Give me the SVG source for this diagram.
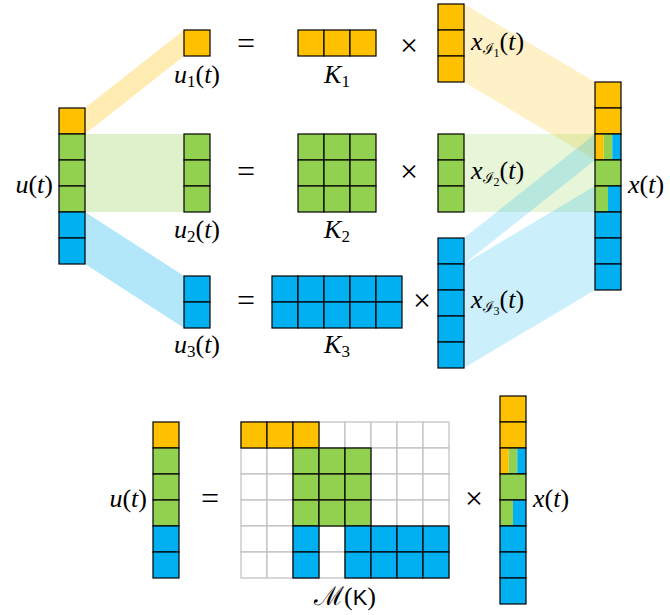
<svg xmlns="http://www.w3.org/2000/svg" width="670" height="615" viewBox="0 0 670 615">
<style>
.o{fill:#FFC000;stroke:#000;stroke-width:1.2}
.g{fill:#92D050;stroke:#000;stroke-width:1.2}
.b{fill:#00B0F0;stroke:#000;stroke-width:1.2}
.on{fill:#FFC000}.gn{fill:#92D050}.bn{fill:#00B0F0}
.box{fill:none;stroke:#000;stroke-width:1.2}
.w{fill:#fff;stroke:#BFBFBF;stroke-width:1.2}
.bo{fill:#FFC000;opacity:.3}.bg{fill:#92D050;opacity:.3}.bb{fill:#00B0F0;opacity:.3}
.ro{fill:#FFC000;opacity:.22}.rg{fill:#92D050;opacity:.22}.rb{fill:#00B0F0;opacity:.2}
text{font-family:'Liberation Serif','Times New Roman',serif;font-size:26px;fill:#000}
.op{font-size:32px}
.i{font-style:italic}
.s{font-size:17px}
.ss{font-size:12px}
.sc{font-family:'DejaVu Serif',serif;font-size:15px;font-style:normal}
.sf{font-family:'Liberation Sans',Arial,sans-serif;font-style:normal;font-size:22px}
</style>
<g id="connectors">
<polygon class="bo" points="85,108 184,30 184,56 85,134"/>
<rect class="bg" x="85" y="134" width="99" height="78"/>
<polygon class="bb" points="85,212 184,276 184,328 85,264"/>
<polygon class="ro" points="464,4 595,82 595,160 464,82"/>
<rect class="rg" x="464" y="134" width="131" height="78"/>
<polygon class="rb" points="464,238 595,134 595,160 464,264"/>
<polygon class="rb" points="464,264 595,186 595,290 464,368"/>
</g>
<g id="u">
<rect class="o" x="59" y="108" width="26" height="26"/>
<rect class="g" x="59" y="134" width="26" height="26"/>
<rect class="g" x="59" y="160" width="26" height="26"/>
<rect class="g" x="59" y="186" width="26" height="26"/>
<rect class="b" x="59" y="212" width="26" height="26"/>
<rect class="b" x="59" y="238" width="26" height="26"/>
<text x="53" y="193" text-anchor="end"><tspan class="i">u</tspan>(<tspan class="i">t</tspan>)</text>
</g>
<g id="u1">
<rect class="o" x="184" y="30" width="26" height="26"/>
<text x="197" y="83" text-anchor="middle"><tspan class="i">u</tspan><tspan class="s" dy="4">1</tspan><tspan dy="-4">(</tspan><tspan class="i">t</tspan>)</text>
</g>
<g id="u2">
<rect class="g" x="184" y="134" width="26" height="26"/>
<rect class="g" x="184" y="160" width="26" height="26"/>
<rect class="g" x="184" y="186" width="26" height="26"/>
<text x="197" y="238" text-anchor="middle"><tspan class="i">u</tspan><tspan class="s" dy="4">2</tspan><tspan dy="-4">(</tspan><tspan class="i">t</tspan>)</text>
</g>
<g id="u3">
<rect class="b" x="184" y="276" width="26" height="26"/>
<rect class="b" x="184" y="302" width="26" height="26"/>
<text x="197" y="353" text-anchor="middle"><tspan class="i">u</tspan><tspan class="s" dy="4">3</tspan><tspan dy="-4">(</tspan><tspan class="i">t</tspan>)</text>
</g>
<g id="eq1"><text class="op" x="246" y="54" text-anchor="middle">=</text></g>
<g id="eq2"><text class="op" x="246" y="182" text-anchor="middle">=</text></g>
<g id="eq3"><text class="op" x="246" y="311" text-anchor="middle">=</text></g>
<g id="K1">
<rect class="o" x="298" y="30" width="26" height="26"/>
<rect class="o" x="324" y="30" width="26" height="26"/>
<rect class="o" x="350" y="30" width="26" height="26"/>
<text x="337" y="83" text-anchor="middle"><tspan class="i">K</tspan><tspan class="s" dy="4">1</tspan></text>
</g>
<g id="K2">
<rect class="g" x="298" y="134" width="26" height="26"/>
<rect class="g" x="324" y="134" width="26" height="26"/>
<rect class="g" x="350" y="134" width="26" height="26"/>
<rect class="g" x="298" y="160" width="26" height="26"/>
<rect class="g" x="324" y="160" width="26" height="26"/>
<rect class="g" x="350" y="160" width="26" height="26"/>
<rect class="g" x="298" y="186" width="26" height="26"/>
<rect class="g" x="324" y="186" width="26" height="26"/>
<rect class="g" x="350" y="186" width="26" height="26"/>
<text x="337" y="238" text-anchor="middle"><tspan class="i">K</tspan><tspan class="s" dy="4">2</tspan></text>
</g>
<g id="K3">
<rect class="b" x="272" y="276" width="26" height="26"/>
<rect class="b" x="298" y="276" width="26" height="26"/>
<rect class="b" x="324" y="276" width="26" height="26"/>
<rect class="b" x="350" y="276" width="26" height="26"/>
<rect class="b" x="376" y="276" width="26" height="26"/>
<rect class="b" x="272" y="302" width="26" height="26"/>
<rect class="b" x="298" y="302" width="26" height="26"/>
<rect class="b" x="324" y="302" width="26" height="26"/>
<rect class="b" x="350" y="302" width="26" height="26"/>
<rect class="b" x="376" y="302" width="26" height="26"/>
<text x="337" y="353" text-anchor="middle"><tspan class="i">K</tspan><tspan class="s" dy="4">3</tspan></text>
</g>
<g id="times1"><text class="op" x="409" y="56" text-anchor="middle">×</text></g>
<g id="times2"><text class="op" x="409" y="182" text-anchor="middle">×</text></g>
<g id="times3"><text class="op" x="422" y="311" text-anchor="middle">×</text></g>
<g id="xI1">
<rect class="o" x="438" y="4" width="26" height="26"/>
<rect class="o" x="438" y="30" width="26" height="26"/>
<rect class="o" x="438" y="56" width="26" height="26"/>
<text x="471" y="50"><tspan class="i">x</tspan><tspan class="sc" dy="4">ℐ</tspan><tspan class="ss" dy="3">1</tspan><tspan dy="-7">(</tspan><tspan class="i">t</tspan>)</text>
</g>
<g id="xI2">
<rect class="g" x="438" y="134" width="26" height="26"/>
<rect class="g" x="438" y="160" width="26" height="26"/>
<rect class="g" x="438" y="186" width="26" height="26"/>
<text x="471" y="179"><tspan class="i">x</tspan><tspan class="sc" dy="4">ℐ</tspan><tspan class="ss" dy="3">2</tspan><tspan dy="-7">(</tspan><tspan class="i">t</tspan>)</text>
</g>
<g id="xI3">
<rect class="b" x="438" y="238" width="26" height="26"/>
<rect class="b" x="438" y="264" width="26" height="26"/>
<rect class="b" x="438" y="290" width="26" height="26"/>
<rect class="b" x="438" y="316" width="26" height="26"/>
<rect class="b" x="438" y="342" width="26" height="26"/>
<text x="471" y="308"><tspan class="i">x</tspan><tspan class="sc" dy="4">ℐ</tspan><tspan class="ss" dy="3">3</tspan><tspan dy="-7">(</tspan><tspan class="i">t</tspan>)</text>
</g>
<g id="x">
<rect class="o" x="595" y="82" width="26" height="26"/>
<rect class="o" x="595" y="108" width="26" height="26"/>
<rect class="on" x="595" y="134" width="8.67" height="26"/>
<rect class="gn" x="603.67" y="134" width="8.67" height="26"/>
<rect class="bn" x="612.33" y="134" width="8.67" height="26"/>
<rect class="box" x="595" y="134" width="26" height="26"/>
<rect class="g" x="595" y="160" width="26" height="26"/>
<rect class="gn" x="595" y="186" width="13" height="26"/>
<rect class="bn" x="608" y="186" width="13" height="26"/>
<rect class="box" x="595" y="186" width="26" height="26"/>
<rect class="b" x="595" y="212" width="26" height="26"/>
<rect class="b" x="595" y="238" width="26" height="26"/>
<rect class="b" x="595" y="264" width="26" height="26"/>
<text x="628" y="193"><tspan class="i">x</tspan>(<tspan class="i">t</tspan>)</text>
</g>
<g id="u-bottom">
<rect class="o" x="153" y="422" width="26" height="26"/>
<rect class="g" x="153" y="448" width="26" height="26"/>
<rect class="g" x="153" y="474" width="26" height="26"/>
<rect class="g" x="153" y="500" width="26" height="26"/>
<rect class="b" x="153" y="526" width="26" height="26"/>
<rect class="b" x="153" y="552" width="26" height="26"/>
<text x="147" y="507" text-anchor="end"><tspan class="i">u</tspan>(<tspan class="i">t</tspan>)</text>
</g>
<g id="eq-bottom"><text class="op" x="210" y="509" text-anchor="middle">=</text></g>
<g id="MK">
<g class="w">
<rect x="241" y="422" width="26" height="26"/><rect x="267" y="422" width="26" height="26"/><rect x="293" y="422" width="26" height="26"/><rect x="319" y="422" width="26" height="26"/><rect x="345" y="422" width="26" height="26"/><rect x="371" y="422" width="26" height="26"/><rect x="397" y="422" width="26" height="26"/><rect x="423" y="422" width="26" height="26"/>
<rect x="241" y="448" width="26" height="26"/><rect x="267" y="448" width="26" height="26"/><rect x="293" y="448" width="26" height="26"/><rect x="319" y="448" width="26" height="26"/><rect x="345" y="448" width="26" height="26"/><rect x="371" y="448" width="26" height="26"/><rect x="397" y="448" width="26" height="26"/><rect x="423" y="448" width="26" height="26"/>
<rect x="241" y="474" width="26" height="26"/><rect x="267" y="474" width="26" height="26"/><rect x="293" y="474" width="26" height="26"/><rect x="319" y="474" width="26" height="26"/><rect x="345" y="474" width="26" height="26"/><rect x="371" y="474" width="26" height="26"/><rect x="397" y="474" width="26" height="26"/><rect x="423" y="474" width="26" height="26"/>
<rect x="241" y="500" width="26" height="26"/><rect x="267" y="500" width="26" height="26"/><rect x="293" y="500" width="26" height="26"/><rect x="319" y="500" width="26" height="26"/><rect x="345" y="500" width="26" height="26"/><rect x="371" y="500" width="26" height="26"/><rect x="397" y="500" width="26" height="26"/><rect x="423" y="500" width="26" height="26"/>
<rect x="241" y="526" width="26" height="26"/><rect x="267" y="526" width="26" height="26"/><rect x="293" y="526" width="26" height="26"/><rect x="319" y="526" width="26" height="26"/><rect x="345" y="526" width="26" height="26"/><rect x="371" y="526" width="26" height="26"/><rect x="397" y="526" width="26" height="26"/><rect x="423" y="526" width="26" height="26"/>
<rect x="241" y="552" width="26" height="26"/><rect x="267" y="552" width="26" height="26"/><rect x="293" y="552" width="26" height="26"/><rect x="319" y="552" width="26" height="26"/><rect x="345" y="552" width="26" height="26"/><rect x="371" y="552" width="26" height="26"/><rect x="397" y="552" width="26" height="26"/><rect x="423" y="552" width="26" height="26"/>
</g>
<rect class="o" x="241" y="422" width="26" height="26"/>
<rect class="o" x="267" y="422" width="26" height="26"/>
<rect class="o" x="293" y="422" width="26" height="26"/>
<rect class="g" x="293" y="448" width="26" height="26"/>
<rect class="g" x="319" y="448" width="26" height="26"/>
<rect class="g" x="345" y="448" width="26" height="26"/>
<rect class="g" x="293" y="474" width="26" height="26"/>
<rect class="g" x="319" y="474" width="26" height="26"/>
<rect class="g" x="345" y="474" width="26" height="26"/>
<rect class="g" x="293" y="500" width="26" height="26"/>
<rect class="g" x="319" y="500" width="26" height="26"/>
<rect class="g" x="345" y="500" width="26" height="26"/>
<rect class="b" x="293" y="526" width="26" height="26"/>
<rect class="b" x="345" y="526" width="26" height="26"/>
<rect class="b" x="371" y="526" width="26" height="26"/>
<rect class="b" x="397" y="526" width="26" height="26"/>
<rect class="b" x="423" y="526" width="26" height="26"/>
<rect class="b" x="293" y="552" width="26" height="26"/>
<rect class="b" x="345" y="552" width="26" height="26"/>
<rect class="b" x="371" y="552" width="26" height="26"/>
<rect class="b" x="397" y="552" width="26" height="26"/>
<rect class="b" x="423" y="552" width="26" height="26"/>
<text x="345" y="605" text-anchor="middle"><tspan font-family="DejaVu Serif, serif">ℳ</tspan>(<tspan class="sf">K</tspan>)</text>
</g>
<g id="times-bottom"><text class="op" x="474" y="509" text-anchor="middle">×</text></g>
<g id="x-bottom">
<rect class="o" x="500" y="396" width="26" height="26"/>
<rect class="o" x="500" y="422" width="26" height="26"/>
<rect class="on" x="500" y="448" width="8.67" height="26"/>
<rect class="gn" x="508.67" y="448" width="8.67" height="26"/>
<rect class="bn" x="517.33" y="448" width="8.67" height="26"/>
<rect class="box" x="500" y="448" width="26" height="26"/>
<rect class="g" x="500" y="474" width="26" height="26"/>
<rect class="gn" x="500" y="500" width="13" height="26"/>
<rect class="bn" x="513" y="500" width="13" height="26"/>
<rect class="box" x="500" y="500" width="26" height="26"/>
<rect class="b" x="500" y="526" width="26" height="26"/>
<rect class="b" x="500" y="552" width="26" height="26"/>
<rect class="b" x="500" y="578" width="26" height="26"/>
<text x="533" y="507"><tspan class="i">x</tspan>(<tspan class="i">t</tspan>)</text>
</g>
</svg>
